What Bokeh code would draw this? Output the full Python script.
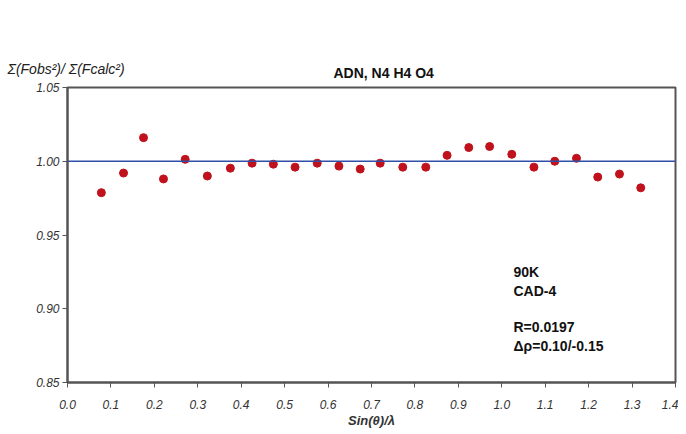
from bokeh.plotting import figure
from bokeh.models import Span, Label, FixedTicker, NumeralTickFormatter, Range1d, Title
from bokeh.embed import file_html
from bokeh.resources import INLINE

sin_theta_lambda = [0.078, 0.129, 0.175, 0.221, 0.271, 0.322, 0.375, 0.425, 0.474, 0.524,
                    0.575, 0.625, 0.674, 0.720, 0.772, 0.825, 0.874, 0.924, 0.972, 1.023,
                    1.074, 1.122, 1.172, 1.221, 1.271, 1.320]
ratio = [0.9787, 0.992, 1.016, 0.988, 1.0013, 0.990, 0.9953, 0.9987, 0.998, 0.996,
         0.9987, 0.9967, 0.9947, 0.9987, 0.996, 0.996, 1.004, 1.0093, 1.010, 1.0047,
         0.996, 1.000, 1.002, 0.9893, 0.9913, 0.982]
x_ticks = [round(0.1 * i, 1) for i in range(15)]
y_ticks = [0.85, 0.90, 0.95, 1.00, 1.05]
title_text = "ADN, N4 H4 O4"
y_label = "Σ(Fobs²)/ Σ(Fcalc²)"
x_label = "Sin(θ)/λ"
notes = ["90K", "CAD-4", "R=0.0197", "Δρ=0.10/-0.15"]
notes_y = [0.9248, 0.9122, 0.8875, 0.8749]

W, H = 678, 430
p = figure(width=W, height=H, output_backend="svg", toolbar_location=None,
           x_range=Range1d(0, 1.4), y_range=Range1d(0.85, 1.05),
           min_border_left=67, min_border_right=W - 675, min_border_top=87,
           min_border_bottom=H - 387)
p.background_fill_color = "white"
p.border_fill_color = "white"
p.outline_line_color = "#555555"
p.outline_line_width = 2
p.grid.visible = False

font = "Liberation Sans"
p.title.text = title_text
p.title.align = "left"
p.title.offset = 266
p.title.text_font = font
p.title.text_font_style = "bold"
p.title.text_font_size = "14px"
p.title.text_color = "#111111"
p.title.standoff = -66

p.add_layout(Title(text=y_label, align="left", offset=-60, standoff=22,
                   text_font=font, text_font_style="italic", text_font_size="14px",
                   text_color="#222222"), "above")

for ax in (p.xaxis[0], p.yaxis[0]):
    ax.axis_line_color = "#555555"
    ax.axis_line_width = 2
    ax.major_tick_line_color = "#555555"
    ax.major_tick_out = 5
    ax.major_tick_in = 0
    ax.minor_tick_line_color = None
    ax.major_label_text_font = font
    ax.major_label_text_font_style = "italic"
    ax.major_label_text_font_size = "12px"
    ax.major_label_text_color = "#333333"

p.xaxis.ticker = FixedTicker(ticks=x_ticks)
p.xaxis.formatter = NumeralTickFormatter(format="0.0")
p.xaxis.major_label_standoff = 12
p.xaxis.axis_label = x_label
p.xaxis.axis_label_text_font = font
p.xaxis.axis_label_text_font_style = "bold italic"
p.xaxis.axis_label_text_font_size = "13px"
p.xaxis.axis_label_text_color = "#333333"
p.xaxis.axis_label_standoff = 1

p.yaxis.ticker = FixedTicker(ticks=y_ticks)
p.yaxis.formatter = NumeralTickFormatter(format="0.00")
p.yaxis.major_label_standoff = 3

p.add_layout(Span(location=1.0, dimension="width", line_color="#2f4fa8", line_width=1.5))
p.scatter(sin_theta_lambda, ratio, size=8, fill_color="#c0121c", line_color="#c0121c")

for t, yy in zip(notes, notes_y):
    p.add_layout(Label(x=1.027, y=yy, text=t, text_font=font, text_font_style="bold",
                       text_font_size="14px", text_align="left", text_baseline="middle",
                       text_color="#111111"))

open("out.html", "w").write(file_html(p, INLINE))
